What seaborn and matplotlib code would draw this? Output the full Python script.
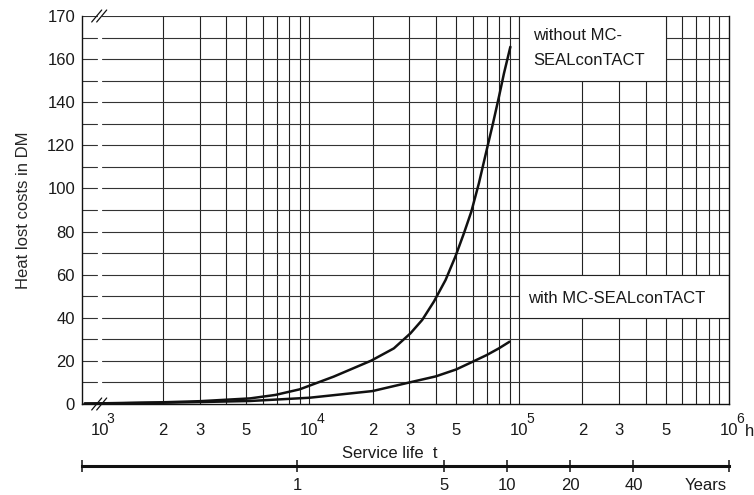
import numpy as np
import pandas as pd
import matplotlib
matplotlib.use("Agg")
import matplotlib.pyplot as plt
import seaborn as sns
from matplotlib.patches import Rectangle
from matplotlib.ticker import FixedLocator, NullFormatter

# ---------------- data ----------------
hours_without = [850, 1000, 2000, 3000, 5220, 6880, 8990, 13060, 19700, 25270,
                 30340, 34500, 39220, 44570, 49610, 54530, 59130, 64270,
                 69980, 75020, 80080, 84640, 90780]
cost_without = [0.2, 0.3, 0.8, 1.3, 2.6, 4.2, 6.8, 12.7, 20.1, 25.8,
                32.8, 39.0, 47.5, 57.5, 68.3, 79.2, 89.2, 102.4,
                117.8, 130.2, 142.5, 153.4, 165.7]
hours_with = [850, 1000, 2000, 3000, 5220, 10000, 20000, 30000, 40000,
              50000, 60000, 70000, 80000, 90000]
cost_with = [0.2, 0.2, 0.6, 0.9, 1.4, 2.9, 6.0, 10.0, 12.8,
             16.0, 19.6, 22.7, 25.8, 28.9]

x_tick_pos = [1e3, 2e3, 3e3, 5e3, 1e4, 2e4, 3e4, 5e4, 1e5, 2e5, 3e5, 5e5, 1e6]
x_tick_lab = ["10", "2", "3", "5", "10", "2", "3", "5", "10", "2", "3", "5", "10"]
x_exp_pos = [1e3, 1e4, 1e5, 1e6]
x_exp_lab = ["3", "4", "5", "6"]
y_tick_pos = [0, 20, 40, 60, 80, 100, 120, 140, 160, 180]
y_tick_lab = ["0", "20", "40", "60", "80", "100", "120", "140", "160", "170"]
year_ticks = [1, 5, 10, 20, 40]
year_labels = ["1", "5", "10", "20", "40"]
HOURS_PER_YEAR = 8760.0

df = pd.DataFrame({
    "hours": hours_without + hours_with,
    "cost": cost_without + cost_with,
    "series": ["without"] * len(hours_without) + ["with"] * len(hours_with),
})

# ---------------- style ----------------
sns.set_theme(style="white")
plt.rcParams["font.family"] = ["Liberation Sans", "DejaVu Sans"]
plt.rcParams["text.color"] = "#1a1a1a"

fig = plt.figure(figsize=(7.54, 4.95), dpi=100)
ax = fig.add_axes([82 / 754, 1 - 404 / 495, 647 / 754, 388 / 495])

XL, XR = 825.0, 1e6
YB, YT = 0.0, 180.0
ax.set_xscale("log")
ax.set_xlim(XL, XR)
ax.set_ylim(YB, YT)

grid_c = "#222222"
# vertical grid lines (log minor grid)
vgrid = [m * 10 ** e for e in (3, 4, 5) for m in range(1, 10)]
vgrid = [v for v in vgrid if v > 1000]
for v in vgrid:
    ax.axvline(v, color=grid_c, lw=0.8, zorder=1)
# horizontal grid lines with break gap near the left
gap0, gap1 = (96.7 - 82) / 647, (101.7 - 82) / 647
for yv in range(10, 181, 10):
    ax.axhline(yv, xmin=0, xmax=gap0, color="#333333", lw=0.8, zorder=1)
    ax.axhline(yv, xmin=gap1, xmax=1, color="#333333", lw=0.8, zorder=1)

# white label boxes
ax.add_patch(Rectangle((1e5, 150), 5e5 - 1e5, 30, facecolor="white",
                       edgecolor=grid_c, lw=0.8, zorder=2))
ax.add_patch(Rectangle((1e5, 40), 1e6 - 1e5, 20, facecolor="white",
                       edgecolor=grid_c, lw=0.8, zorder=2))

sns.lineplot(data=df, x="hours", y="cost", hue="series",
             palette={"without": "#111111", "with": "#111111"},
             estimator=None, sort=True, legend=False, lw=1.8, ax=ax, zorder=3)
for ln in ax.get_lines()[-2:]:
    ln.set_solid_joinstyle("round")
    ln.set_solid_capstyle("round")

ax.text(1.17e5, 165.3, "without MC-\nSEALconTACT", fontsize=12, ha="left",
        va="center", linespacing=1.85, zorder=4)
ax.text(1.098e5, 49.0, "with MC-SEALconTACT", fontsize=12, ha="left",
        va="center", zorder=4)

# spines
for s in ("left", "bottom", "right"):
    ax.spines[s].set_visible(True)
    ax.spines[s].set_color("#111111")
    ax.spines[s].set_linewidth(1.0)
ax.spines["top"].set_visible(False)

# ticks
ax.xaxis.set_major_locator(FixedLocator(x_tick_pos))
ax.xaxis.set_minor_locator(FixedLocator([]))
ax.set_xticklabels(x_tick_lab)
ax.set_yticks(y_tick_pos)
ax.set_yticklabels(y_tick_lab)
ax.tick_params(axis="x", length=0, pad=14, labelsize=12, colors="#1a1a1a")
ax.tick_params(axis="y", length=0, pad=5, labelsize=12, colors="#1a1a1a")
ax.set_xlabel("")
ax.set_ylabel("Heat lost costs in DM", fontsize=12, labelpad=12)

for p, e in zip(x_exp_pos, x_exp_lab):
    ax.annotate(e, xy=(p, 0), xycoords=("data", "axes fraction"),
                xytext=(7.8, -10.5), textcoords="offset points",
                ha="center", va="center", fontsize=10, annotation_clip=False)

fig.text(750 / 754, 1 - 431 / 495, "h", ha="center", va="center", fontsize=12)
fig.text(390 / 754, 1 - 454 / 495, "Service life  t", ha="center", va="center",
         fontsize=12)

# break marks
def brk(yfrac):
    for dx in (0.0, 5.0):
        x0 = (91.7 + dx - 82) / 647
        x1 = (101.7 + dx - 82) / 647
        ax.plot([x0, x1], [yfrac - 6 / 388, yfrac + 6 / 388], transform=ax.transAxes,
                color="#111111", lw=0.9, clip_on=False, zorder=5)
brk(1.0)
brk(0.0)

# years axis
sec = ax.secondary_xaxis((404 - 466) / 388.0,
                         functions=(lambda h: np.asarray(h) / HOURS_PER_YEAR,
                                    lambda y: np.asarray(y) * HOURS_PER_YEAR))
sec.set_xticks(year_ticks)
sec.set_xticklabels(year_labels)
sec.xaxis.set_minor_locator(FixedLocator([XL / HOURS_PER_YEAR, XR / HOURS_PER_YEAR]))
sec.xaxis.set_minor_formatter(NullFormatter())
sec.spines["bottom"].set_linewidth(2.2)
sec.spines["bottom"].set_color("#111111")
sec.tick_params(which="both", direction="inout", length=8, width=1.1,
                color="#111111", labelsize=12, pad=5, labelcolor="#1a1a1a")
fig.text(727 / 754, 1 - 486 / 495, "Years", ha="right", va="center", fontsize=12)

fig.savefig("out.png", dpi=100)
